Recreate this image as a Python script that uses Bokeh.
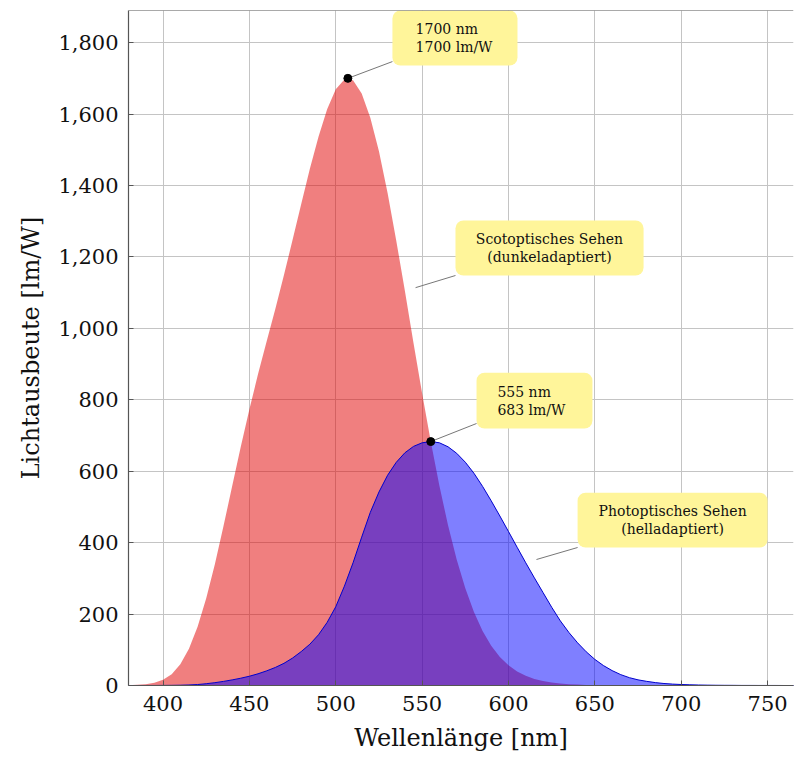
from bokeh.plotting import figure
from bokeh.models import BoxAnnotation, Label, NumeralTickFormatter, FixedTicker, Span, Range1d
from bokeh.embed import file_html
from bokeh.resources import INLINE

# ---------------- data ----------------
wavelength = list(range(380, 785, 5))  # nm

scotopic = [1.0, 1.9, 3.8, 7.7, 15.8, 31.5, 59.2, 102.7, 164.2, 244.1,
            339.7, 446.3, 557.8, 668.3, 773.5, 872.1, 963.9, 1054.0, 1149.2, 1247.8,
            1348.1, 1446.7, 1536.8, 1613.3, 1669.4, 1696.6, 1694.9, 1657.5, 1589.5, 1496.0,
            1378.7, 1246.1, 1105.0, 958.8, 817.7, 683.4, 559.0, 448.6, 352.9, 272.3,
            206.0, 152.8, 111.4, 79.7, 56.4, 39.3, 27.1, 18.5, 12.5, 8.4,
            5.7, 3.8, 2.5, 1.7, 1.2, 0.8, 0.5, 0.4, 0.3, 0.2,
            0.1, 0.1, 0.1, 0.0, 0.0, 0.0, 0.0, 0.0, 0.0, 0.0,
            0.0, 0.0, 0.0, 0.0, 0.0, 0.0, 0.0, 0.0, 0.0, 0.0, 0.0]

photopic = [0.03, 0.04, 0.08, 0.15, 0.27, 0.44, 0.83, 1.5, 2.7, 5.0,
            7.9, 11.5, 15.7, 20.4, 26.0, 32.8, 41.0, 50.5, 62.1, 76.9,
            95.0, 115.6, 142.1, 176.6, 220.6, 278.2, 343.5, 415.4, 484.9, 541.8,
            588.7, 624.8, 651.6, 669.5, 679.6, 683.0, 679.6, 668.4, 650.2, 625.2,
            594.2, 557.5, 517.0, 474.6, 431.0, 387.1, 343.5, 301.3, 260.2, 219.2,
            181.0, 148.2, 119.5, 94.4, 73.1, 55.7, 41.7, 30.4, 21.9, 15.8,
            11.6, 8.1, 5.6, 3.9, 2.8, 2.0, 1.4, 1.0, 0.7, 0.5,
            0.4, 0.2, 0.2, 0.1, 0.1, 0.1, 0.0, 0.0, 0.0, 0.0, 0.0]

peak_x = [507, 555]
peak_y = [1700, 683]

x_ticks = [400, 450, 500, 550, 600, 650, 700, 750]
y_ticks = [0, 200, 400, 600, 800, 1000, 1200, 1400, 1600, 1800]

callout_lines = [
    ["1700 nm", "1700 lm/W"],
    ["Scotoptisches Sehen", "(dunkeladaptiert)"],
    ["555 nm", "683 lm/W"],
    ["Photoptisches Sehen", "(helladaptiert)"],
]

# ---------------- layout of callouts (positions, not data) ----------------
callout_layout = [
    dict(left=532.8, right=605.2, top=1890, bottom=1736, tx=546.2, ty=1813, align="left",
         seg=(507, 1700, 532.8, 1747)),
    dict(left=569.3, right=678.2, top=1302, bottom=1148, tx=623.7, ty=1225, align="center",
         seg=(546.2, 1114, 569.3, 1148)),
    dict(left=581.5, right=648.6, top=876, bottom=719.6, tx=593.6, ty=798, align="left",
         seg=(555, 683, 581.5, 733.6)),
    dict(left=640.0, right=750.0, top=540, bottom=386.4, tx=695.0, ty=463.4, align="center",
         seg=(616.2, 352.8, 640.0, 386.4)),
]

FONT = "DejaVu Serif"

p = figure(width=794, height=760, output_backend="svg", toolbar_location=None,
           x_range=Range1d(380, 765), y_range=Range1d(0, 1890))
p.min_border_left = 128
p.min_border_right = 1
p.min_border_top = 10
p.min_border_bottom = 75
p.outline_line_color = None
p.background_fill_color = "white"

# fills
xs_closed = wavelength + [wavelength[-1], wavelength[0]]
p.patch(xs_closed, scotopic + [0, 0], fill_color=(225, 0, 0), fill_alpha=0.5, line_color=None)
p.patch(xs_closed, photopic + [0, 0], fill_color=(0, 0, 255), fill_alpha=0.5,
        line_color="#0000cc", line_width=1)

# connectors
p.segment(x0=[c["seg"][0] for c in callout_layout], y0=[c["seg"][1] for c in callout_layout],
          x1=[c["seg"][2] for c in callout_layout], y1=[c["seg"][3] for c in callout_layout],
          line_color="#777777", line_width=1)

# peak markers
p.scatter(peak_x, peak_y, size=8, color="black")

# callout boxes + text
for c in callout_layout:
    p.add_layout(BoxAnnotation(left=c["left"], right=c["right"], top=c["top"], bottom=c["bottom"],
                               fill_color="#FFF59A", fill_alpha=1.0, line_color=None,
                               border_radius=8))
for c, lines in zip(callout_layout, callout_lines):
    for i, t in enumerate(lines):
        p.add_layout(Label(x=c["tx"], y=c["ty"], text=t, text_align=c["align"],
                           text_baseline="middle", y_offset=9 - 18 * i,
                           text_font=FONT, text_font_size="14px", text_color="#111111"))

# top border
p.add_layout(Span(location=1890, dimension="width", line_color="#555555", line_width=1.2))

# axes
p.xaxis.ticker = FixedTicker(ticks=x_ticks)
p.yaxis.ticker = FixedTicker(ticks=y_ticks)
p.yaxis.formatter = NumeralTickFormatter(format="0,0")
p.xaxis.axis_label = "Wellenlänge [nm]"
p.yaxis.axis_label = "Lichtausbeute [lm/W]"
for ax in (p.xaxis, p.yaxis):
    ax.axis_label_text_font = FONT
    ax.axis_label_text_font_size = "24px"
    ax.axis_label_text_font_style = "normal"
    ax.axis_label_text_color = "#111111"
    ax.major_label_text_font = FONT
    ax.major_label_text_font_size = "21px"
    ax.major_label_text_color = "#111111"
    ax.axis_line_color = "#555555"
    ax.axis_line_width = 1.2
    ax.major_tick_in = 5
    ax.major_tick_out = 0
    ax.major_tick_line_color = "#555555"
    ax.minor_tick_line_color = None
    ax.major_label_standoff = 10
    ax.axis_label_standoff = 10

p.grid.grid_line_color = "#c4c4c4"
p.grid.grid_line_width = 1

open("out.html", "w").write(file_html(p, INLINE))
